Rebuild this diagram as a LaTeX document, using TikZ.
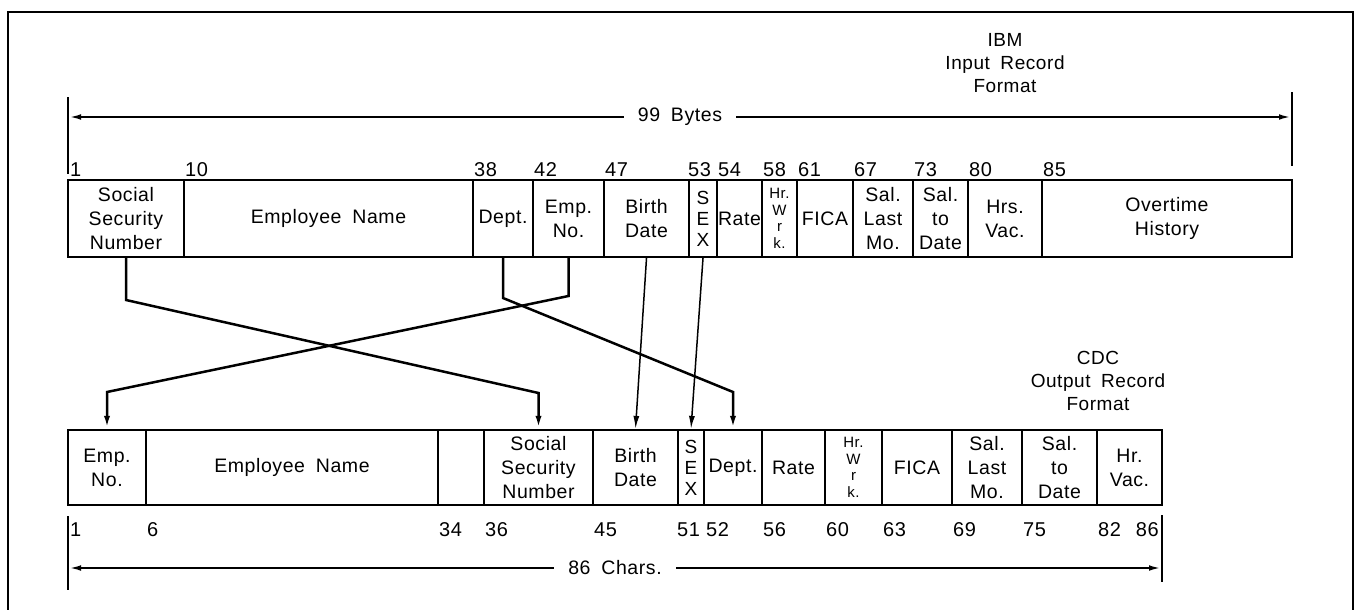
\documentclass[tikz,border=0pt]{standalone}
\usepackage{fontspec}
\setmainfont[LetterSpace=3.0,WordSpace=1.8]{Liberation Sans}
\usetikzlibrary{arrows.meta,calc}

\tikzset{
  fieldbox/.style={draw, line width=2.2pt, inner sep=0pt, align=center,
    font=\fontsize{19.5}{24}\selectfont},
  plaintext/.style={},
  sextext/.style={font=\fontsize{19}{21}\selectfont},
  hrtext/.style={font=\fontsize{15}{16.5}\selectfont},
  bytenum/.style={inner sep=0pt, font=\fontsize{20}{22}\selectfont},
  link/.style={line width=2.5pt, -{Latex[length=13pt,width=6pt]}},
  slimlink/.style={line width=1.5pt, -{Latex[length=13pt,width=6pt]}},
  dimline/.style={line width=2.2pt, {Latex[length=13pt,width=5.5pt]}-{Latex[length=13pt,width=5.5pt]}},
  dimtick/.style={line width=2.2pt},
  dimlabel/.style={fill=white, inner xsep=14pt, inner ysep=3pt,
    font=\fontsize{19.5}{22}\selectfont},
  titletext/.style={align=center, font=\fontsize{19}{23}\selectfont},
  frameline/.style={line width=2.5pt}
}

\begin{document}
\begin{tikzpicture}[x=1pt, y=-1pt]
\useasboundingbox (0,0) rectangle (1362,610);
% Outer frame
\draw[frameline] (8,612) |- (1353,12) -- (1353,612);

% Input record (IBM)
\node[titletext] (ibmtitle) at (1005,63) {IBM\\Input Record\\Format};
\foreach \fname/\xa/\xb/\fstyle/\ftext in {
  inssn/68/184/plaintext/{Social\\Security\\Number},
  inname/184/473/plaintext/{Employee Name},
  indept/473/533/plaintext/{Dept.},
  inemp/533/604/plaintext/{Emp.\\No.},
  inbirth/604/689/plaintext/{Birth\\Date},
  insex/689/717/sextext/{S\\E\\X},
  inrate/717/762/plaintext/{Rate},
  inhrs/762/797/hrtext/{Hr.\\W\\r\\k.},
  infica/797/853/plaintext/{FICA},
  inlast/853/913/plaintext/{Sal.\\Last\\Mo.},
  intodate/913/968/plaintext/{Sal.\\to\\Date},
  invac/968/1042/plaintext/{Hrs.\\Vac.},
  inover/1042/1292/plaintext/{Overtime\\History}}
  \node[fieldbox, \fstyle, minimum width={(\xb-\xa)*1pt}, minimum height=77pt]
    (\fname) at ({(\xa+\xb)/2},218.5) {\ftext};
\foreach \bnum/\bx in {1/70,10/185,38/474,42/534,47/605,53/688,54/718,
                       58/763,61/798,67/854,73/914,80/969,85/1043}
  \node[bytenum, anchor=base west] (inpos\bnum) at (\bx,176) {\bnum};
% 99 bytes dimension
\coordinate (inL) at (68,117);
\coordinate (inR) at (1292,117);
\draw[dimtick] ($(inL)+(0,-20)$) -- ($(inL)+(0,57)$);
\draw[dimtick] ($(inR)+(0,-25)$) -- ($(inR)+(0,49)$);
\draw[dimline] (inL) -- (inR) node[midway, dimlabel] (inbytes) {99 Bytes};

% Output record (CDC)
\node[titletext] (cdctitle) at (1098,381) {CDC\\Output Record\\Format};
\foreach \fname/\xa/\xb/\fstyle/\ftext in {
  outemp/68/146/plaintext/{Emp.\\No.},
  outname/146/438/plaintext/{Employee Name},
  outgap/438/484/plaintext/{},
  outssn/484/593/plaintext/{Social\\Security\\Number},
  outbirth/593/678/plaintext/{Birth\\Date},
  outsex/678/704/sextext/{S\\E\\X},
  outdept/704/762/plaintext/{Dept.},
  outrate/762/825/plaintext/{Rate},
  outhrs/825/882/hrtext/{Hr.\\W\\r\\k.},
  outfica/882/952/plaintext/{FICA},
  outlast/952/1022/plaintext/{Sal.\\Last\\Mo.},
  outtodate/1022/1097/plaintext/{Sal.\\to\\Date},
  outvac/1097/1162/plaintext/{Hr.\\Vac.}}
  \node[fieldbox, \fstyle, minimum width={(\xb-\xa)*1pt}, minimum height=75pt]
    (\fname) at ({(\xa+\xb)/2},467.5) {\ftext};
\foreach \cnum/\cx in {1/70,6/147,34/439,36/485,45/594,51/677,52/706,
                       56/763,60/826,63/883,69/953,75/1023,82/1098}
  \node[bytenum, anchor=base west] (outpos\cnum) at (\cx,536) {\cnum};
\node[bytenum, anchor=base east] (outpos86) at (1159,536) {86};
% 86 chars dimension
\coordinate (outL) at (68,568);
\coordinate (outR) at (1162,568);
\draw[dimtick] ($(outL)+(0,-52)$) -- ($(outL)+(0,22)$);
\draw[dimtick] ($(outR)+(0,-53)$) -- ($(outR)+(0,14)$);
\draw[dimline] (outL) -- (outR) node[midway, dimlabel] (outchars) {86 Chars.};

% Field moves
\draw[link] (inssn.south) -- (inssn.south |- 0,300) -- (outssn.north |- 0,393) -- (outssn.north);
\draw[link] (inemp.south) -- (inemp.south |- 0,296) -- (outemp.north |- 0,392) -- (outemp.north);
\draw[link] (indept.south) -- (indept.south |- 0,298) -- (outdept.north |- 0,392) -- (outdept.north);
\draw[slimlink] (inbirth.south) -- (outbirth.north);
\draw[slimlink] (insex.south) -- (outsex.north);
\end{tikzpicture}
\end{document}
